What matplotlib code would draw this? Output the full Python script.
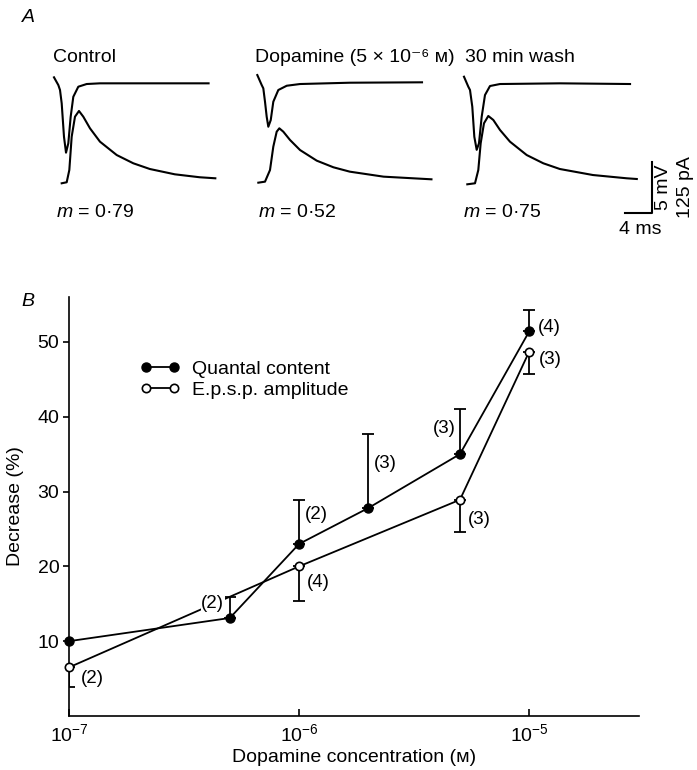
import numpy as np
import matplotlib
matplotlib.use('Agg')
import matplotlib.pyplot as plt
from matplotlib.lines import Line2D

plt.rcParams['font.family'] = ['Liberation Sans', 'DejaVu Sans']
plt.rcParams['mathtext.fontset'] = 'custom'
plt.rcParams['mathtext.rm'] = 'Liberation Sans'
plt.rcParams['mathtext.it'] = 'Liberation Sans:italic'

W, H = 697, 770
FS = 14

# ---- panel A: traces (time in ms from stimulus, current in pA, e.p.s.p. in mV)
ctrl_t_i = [0, 0.64, 0.89, 1.14, 1.48, 1.78, 2.12, 2.47, 2.86, 3.60, 4.84, 6.81, 14.2, 22.9]
ctrl_i = [14.7, -4.2, -16.4, -49, -131, -170, -147, -82, -33, -8.3, -1.7, 0, 0, 0]
ctrl_t_v = [1.14, 1.88, 2.27, 2.62, 3.11, 3.70, 4.34, 5.33, 6.81, 9.29, 11.75, 14.2, 17.9, 21.6, 23.9]
ctrl_v = [0, 0.1, 1.30, 4.57, 6.53, 7.09, 6.53, 5.39, 4.08, 2.77, 1.96, 1.40, 0.88, 0.59, 0.49]

dopa_t_i = [0, 0.65, 0.89, 1.14, 1.39, 1.63, 1.99, 2.37, 3.11, 4.36, 6.33, 13.7, 24.4]
dopa_i = [20.3, -4.2, -12.3, -45.1, -81.9, -106.4, -90, -45.1, -16.4, -5.9, -1.7, 1.5, 2.5]
dopa_t_v = [0.15, 1.14, 1.88, 2.37, 2.87, 3.26, 3.85, 4.84, 6.33, 8.80, 11.27, 13.7, 18.7, 25.8]
dopa_v = [0.06, 0.16, 1.30, 3.59, 5.06, 5.39, 5.06, 4.25, 3.26, 2.22, 1.57, 1.14, 0.65, 0.39]

wash_t_i = [0, 0.64, 0.89, 1.23, 1.53, 1.88, 2.22, 2.62, 3.11, 3.85, 5.33, 14.2, 24.6]
wash_i = [16.2, -8.3, -16.4, -57.4, -131, -163, -147, -82, -28.7, -6.6, -1.7, 0, -1.7]
wash_t_v = [0.49, 1.63, 2.12, 2.47, 2.96, 3.60, 4.34, 5.33, 6.81, 9.29, 11.75, 14.2, 19.1, 24.1, 25.6]
wash_v = [-0.1, 0, 1.30, 3.92, 5.88, 6.60, 6.21, 5.23, 4.08, 2.77, 1.96, 1.40, 0.81, 0.49, 0.42]

titles = ['Control', 'Dopamine (5 \u00d7 10\u207b\u2076 \u1d0d)', '30 min wash']
m_values = ['0\u00b779', '0\u00b752', '0\u00b775']

# ---- panel B: dose response
conc_q = [1e-7, 5e-7, 1e-6, 2e-6, 5e-6, 1e-5]
quantal = [10.0, 13.1, 23.0, 27.8, 35.0, 51.4]
quantal_err = [0, 2.8, 5.9, 9.9, 6.0, 2.8]
n_q = ['', '(2)', '(2)', '(3)', '(3)', '(4)']

conc_e = [1e-7, 1e-6, 5e-6, 1e-5]
epsp = [6.5, 20.0, 28.9, 48.7]
epsp_err = [2.6, 4.6, 4.3, 3.0]
n_e = ['(2)', '(4)', '(3)', '(3)']


def fpos(x, y):
    return x / W, 1 - y / H


fig = plt.figure(figsize=(W / 100, H / 100), dpi=100)

# panel A in ms / mV, 6.75 px per ms and 10.2 px per mV (125 pA == 5 mV)
ax_a = fig.add_axes([0, 1 - 240 / H, 1, 240 / H])
ax_a.set_xlim(0, W / 6.75)
ax_a.set_ylim(0, 240 / 10.2)
ax_a.axis('off')

I_BASE = 15.36
V_BASE = 5.56
starts = [8.0, 38.12, 68.74]
traces = [(ctrl_t_i, ctrl_i, ctrl_t_v, ctrl_v),
          (dopa_t_i, dopa_i, dopa_t_v, dopa_v),
          (wash_t_i, wash_i, wash_t_v, wash_v)]
for x0, (ti, ii, tv, vv) in zip(starts, traces):
    ax_a.plot(x0 + np.array(ti), I_BASE + np.array(ii) / 25.0, color='k', lw=1.5,
              solid_joinstyle='round')
    ax_a.plot(x0 + np.array(tv), V_BASE + np.array(vv), color='k', lw=1.5,
              solid_joinstyle='round')

# scale bar 4 ms / 5 mV
ax_a.plot([96.59 - 4, 96.59, 96.59], [2.65, 2.65, 2.65 + 5], color='k', lw=1.5)

fig.text(*fpos(28, 17), 'A', fontsize=FS, style='italic', ha='center', va='center')
for x, t in zip([53, 255, 465], titles):
    fig.text(*fpos(x, 57), t, fontsize=FS, ha='left', va='center')
for x, m in zip([56, 258, 463], m_values):
    fig.text(*fpos(x, 213), r'$\mathit{m}$ = ' + m, fontsize=FS, ha='left', va='center')
fig.text(*fpos(664, 187), '5 mV', fontsize=FS, rotation=90, ha='center', va='center')
fig.text(*fpos(686, 187), '125 pA', fontsize=FS, rotation=90, ha='center', va='center')
fig.text(*fpos(640, 229), '4 ms', fontsize=FS, ha='center', va='center')

# panel B
ax = fig.add_axes([69 / W, 1 - 716 / H, 570 / W, 419 / H])
ax.set_xscale('log')
ax.set_xlim(1e-7, 3e-5)
ax.set_ylim(0, 56)

ax.plot(conc_q, quantal, color='k', lw=1.3, zorder=2)
ax.plot(conc_e, epsp, color='k', lw=1.3, zorder=2)

xq = [c for c, e in zip(conc_q, quantal_err) if e > 0]
yq = [v for v, e in zip(quantal, quantal_err) if e > 0]
eq = [e for e in quantal_err if e > 0]
ax.errorbar(xq, yq, yerr=[[0] * len(eq), eq], fmt='none', ecolor='k',
            elinewidth=1.3, capsize=4.5, capthick=1.3, zorder=1)
ax.errorbar(conc_e, epsp, yerr=[epsp_err, [0] * len(epsp_err)], fmt='none', ecolor='k',
            elinewidth=1.3, capsize=4.5, capthick=1.3, zorder=1)

ax.plot(conc_q, quantal, 'o', ms=6.5, mfc='k', mec='k', zorder=4, clip_on=False)
ax.plot(conc_e, epsp, 'o', ms=6, mfc='white', mec='k', mew=1.2, zorder=4, clip_on=False)

# n labels, offsets in px from each point (right/down positive)
off_q = [(0, 0), (-17, -14), (17, -29), (17, -44), (-16, -26), (20, -4)]
off_e = [(23, 11), (19, 16), (19, 20), (21, 8)]
for c, v, lab, (dx, dy) in zip(conc_q, quantal, n_q, off_q):
    if lab:
        ax.annotate(lab, (c, v), xytext=(dx * 0.72, -dy * 0.72), textcoords='offset points',
                    fontsize=13.5, ha='center', va='center', zorder=3,
                    bbox=dict(fc='white', ec='none', pad=0.5))
for c, v, lab, (dx, dy) in zip(conc_e, epsp, n_e, off_e):
    ax.annotate(lab, (c, v), xytext=(dx * 0.72, -dy * 0.72), textcoords='offset points',
                fontsize=13.5, ha='center', va='center', zorder=3,
                bbox=dict(fc='white', ec='none', pad=0.5))

ax.spines['top'].set_visible(False)
ax.spines['right'].set_visible(False)
ax.spines['left'].set_linewidth(1.2)
ax.spines['bottom'].set_linewidth(1.2)

ax.set_yticks([10, 20, 30, 40, 50])
ax.set_xticks([1e-7, 1e-6, 1e-5])
ax.set_xticklabels([r'$10^{-7}$', r'$10^{-6}$', r'$10^{-5}$'])
ax.xaxis.set_minor_locator(matplotlib.ticker.NullLocator())
ax.tick_params(axis='y', direction='out', length=4, width=1.2, labelsize=FS, pad=3)
ax.tick_params(axis='x', direction='in', length=5, width=1.2, labelsize=FS, pad=5)

ax.set_xlabel('Dopamine concentration (\u1d0d)', fontsize=FS, labelpad=3)
ax.set_ylabel('Decrease (%)', fontsize=FS, labelpad=10)

handles = [Line2D([], [], color='k', lw=1.3, marker='o', ms=6.5, mfc='k', mec='k'),
           Line2D([], [], color='k', lw=1.3, marker='o', ms=6, mfc='white', mec='k', mew=1.2)]
ax.legend(handles, ['Quantal content', 'E.p.s.p. amplitude'], numpoints=2, frameon=False,
          fontsize=FS, loc='upper left', bbox_to_anchor=fpos(140, 360),
          bbox_transform=fig.transFigure, borderpad=0, borderaxespad=0,
          handlelength=2.06, handletextpad=0.6, labelspacing=0.2)

fig.text(*fpos(28, 302), 'B', fontsize=FS, style='italic', ha='center', va='center')

fig.savefig('out.png', dpi=100)
